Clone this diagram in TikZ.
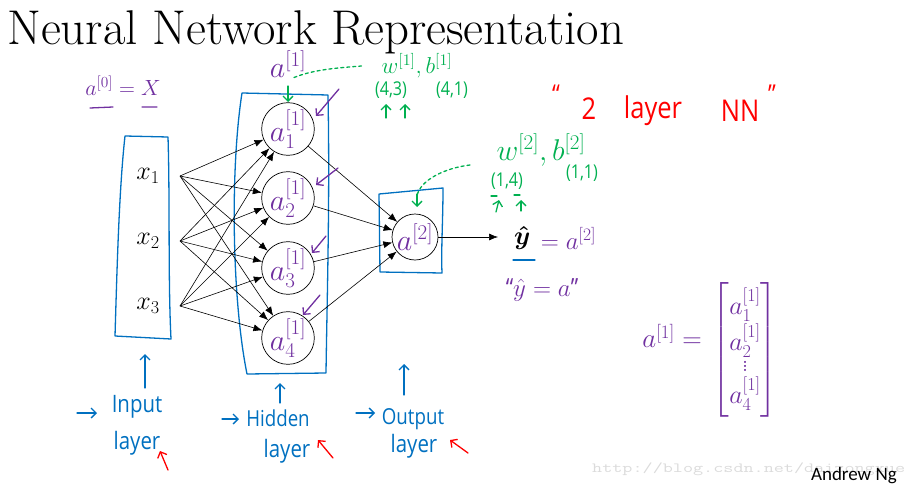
\RequirePackage{fix-cm}
\documentclass[tikz,border=0pt]{standalone}
\usepackage{amsmath}
\usepackage{fontspec}
\usepackage{xcolor}
\usepackage{tikz}
\usetikzlibrary{calc,arrows.meta}
\newfontfamily\inkFont[FakeStretch=0.85]{Open Sans}
\newfontfamily\slideFont{Carlito}
\definecolor{inkBlue}{RGB}{0,112,192}
\definecolor{inkPurple}{RGB}{112,48,160}
\definecolor{inkGreen}{RGB}{0,176,80}
\definecolor{inkRed}{RGB}{255,0,0}
\newcommand{\neuronSize}{46pt}
\newcommand{\inputX}{148}
\newcommand{\hiddenX}{288}
\newcommand{\inputNames}{1/176, 2/241, 3/306}
\newcommand{\hiddenNames}{1/129, 2/198, 3/268, 4/338}
\newcommand{\inkSize}[1]{\fontsize{#1}{#1}\selectfont}

\begin{document}
\begin{tikzpicture}[x=1pt, y=-1pt,
		neuron/.style={circle, draw, line width=0.7pt, minimum size=\neuronSize, inner sep=0pt, text=inkPurple},
		edge/.style={-{Latex[length=9pt, width=7pt]}, line width=0.6pt},
		pen/.style={line width=1.3pt, line cap=round, line join=round},
		penTip/.style={pen, -{Straight Barb[length=5pt, width=10pt]}},
		inkText/.style={inner sep=0pt, font=\inkFont\inkSize{22}},
	]
	\useasboundingbox (0,0) rectangle (915,487);

	\node[anchor=base west, inner sep=0pt] (title) at (7,45) {\inkSize{48.8}Neural Network Representation};

	% layers
	\draw[pen, inkBlue] (125,136) -- (168,137) .. controls (170,200) and (168,280) .. (171,339) -- (115,336) .. controls (117,270) and (119,190) .. cycle;
	\draw[pen, inkBlue] (242,93) -- (328,95) .. controls (330,200) and (327,300) .. (326,373) -- (247,374) .. controls (232,300) and (230,170) .. cycle;
	\draw[pen, inkBlue] (379,194) -- (443,188) .. controls (443,220) and (441,250) .. (442,273) -- (380,272) -- cycle;

	\foreach \i/\y in \inputNames
	{
		\node (x\i) at (\inputX,\y) {\inkSize{26}$x_{\i}$};
		\coordinate (in\i) at (180,\y);
	}
	\foreach \j/\y in \hiddenNames
		\node[neuron] (h\j) at (\hiddenX,\y) {\inkSize{30}$a^{[1]}_{\j}$};
	\node[neuron] (out) at (415,237) {\inkSize{30}$a^{[2]}$};

	\foreach \i in {1,2,3}
		\foreach \j in {1,...,4}
			\draw[edge] (in\i) -- (h\j);
	\foreach \j in {1,...,4}
		\draw[edge] (h\j) -- (out);

	\node[anchor=west, inner sep=0pt] (yhat) at (514,238) {\inkSize{26}$\boldsymbol{\hat{y}}$};
	\draw[edge] (out) -- ([xshift=-16pt]yhat.west |- out);
	\node[anchor=west, inner sep=0pt, text=inkPurple] (yval) at ([xshift=10pt]yhat.east) {\inkSize{25}$=a^{[2]}$};
	\draw[pen, inkBlue] (513,260) -- (535,260);
	\node[text=inkPurple, inner sep=0pt] (yalias) at (542,290) {\inkSize{25}{\inkFont “}$\hat{y}=a${\inkFont ”}};

	% purple notes
	\node[text=inkPurple, inner sep=0pt] (aZero) at (123,86) {\inkSize{22}$a^{[0]}=X$};
	\draw[pen, inkPurple] (90,108) -- (113,107) (142,107) -- (157,107);
	\node[text=inkPurple, inner sep=0pt] (aTop) at (288,64) {\inkSize{30}$a^{[1]}$};
	\foreach \sx/\sy/\ex/\ey in {339/89/316/116, 338/168/316/185, 326/236/312/253, 320/295/303/315}
		\draw[penTip, inkPurple] (\sx,\sy) -- (\ex,\ey);
	\node[text=inkPurple, inner sep=0pt, anchor=east] (aVecName) at (702,336) {\inkSize{27}$a^{[1]}=$};
	\node[text=inkPurple, inner sep=0pt] (aVec) at (745,350) {\fontsize{26}{29}\selectfont$\begin{bmatrix} a^{[1]}_{1}\\ a^{[1]}_{2}\\[-8pt] \vdots\\[-4pt] a^{[1]}_{4}\end{bmatrix}$};

	% green notes
	\node[text=inkGreen, inner sep=0pt] (w1) at (417,66) {\inkSize{23}$w^{[1]},b^{[1]}$};
	\node[inkText, text=inkGreen] (w1dim) at (391,90) {\inkSize{19}(4,3)};
	\node[inkText, text=inkGreen] (b1dim) at (452,90) {\inkSize{19}(4,1)};
	\draw[pen, inkGreen, dashed] ([xshift=6pt]aTop.south) .. controls +(20,-8) and +(-25,2) .. ([xshift=-20pt]w1.west);
	\draw[penTip, inkGreen] (288,86) -- (288,102);
	\draw[penTip, inkGreen] (386,118) -- (386,104);
	\draw[penTip, inkGreen] (405,118) -- (405,104);

	\node[text=inkGreen, inner sep=0pt] (w2) at (541,150) {\inkSize{30}$w^{[2]},b^{[2]}$};
	\node[inkText, text=inkGreen] (w2dim) at (507,181) {\inkSize{19}(1,4)};
	\node[inkText, text=inkGreen] (b2dim) at (582,173) {\inkSize{19}(1,1)};
	\draw[pen, inkGreen, dashed] (470,165) .. controls (445,168) and (420,180) .. (417,196);
	\draw[penTip, inkGreen] (417,194) -- (417,207);
	\draw[pen, inkGreen] (491,196) -- (497,196) (514,195) -- (520,195);
	\draw[penTip, inkGreen] (496,212) -- (499,200);
	\draw[penTip, inkGreen] (521,211) -- (521,200);

	% red notes
	\node[inkText, text=inkRed] (nnOpen) at (556,94) {\inkSize{26}“};
	\node[inkText, text=inkRed] (nnTwo) at (589,109) {\inkSize{30}2};
	\node[inkText, text=inkRed] (nnLayer) at (653,111) {\inkSize{30}layer};
	\node[inkText, text=inkRed] (nnNet) at (740,111) {\inkSize{30}NN};
	\node[inkText, text=inkRed] (nnClose) at (772,94) {\inkSize{26}”};

	% layer names
	\node[inkText, text=inkBlue] (inputWord) at (137,407) {\inkSize{24}Input};
	\node[inkText, text=inkBlue] (inputLayer) at (137,443) {\inkSize{24}layer};
	\node[inkText, text=inkBlue] (hiddenWord) at (278,418) {\inkSize{22}Hidden};
	\node[inkText, text=inkBlue] (hiddenLayer) at (287,451) {\inkSize{24}layer};
	\node[inkText, text=inkBlue] (outputWord) at (413,419) {\inkSize{22}Output};
	\node[inkText, text=inkBlue] (outputLayer) at (414,446) {\inkSize{24}layer};
	\draw[penTip, inkBlue] (145,388) -- (145,354);
	\draw[penTip, inkBlue] (280,403) -- (280,383);
	\draw[penTip, inkBlue] (404,395) -- (404,364);
	\draw[penTip, inkBlue] (77,413) -- (97,413);
	\draw[penTip, inkBlue] (222,419) -- (239,419);
	\draw[penTip, inkBlue] (356,413) -- (375,413);
	\draw[penTip, inkRed] (168,470) -- (160,451);
	\draw[penTip, inkRed] (333,458) -- (318,440);
	\draw[penTip, inkRed] (468,453) -- (450,440);

	\node[anchor=base west, inner sep=0pt, text=black!14] (mark) at (592,472) {\scalebox{1.4}[1]{\inkSize{14}\ttfamily http://blog.csdn.net/daizongxue}};
	\node[anchor=base east, inner sep=0pt] (credit) at (897,480) {\slideFont\inkSize{19}Andrew Ng};
\end{tikzpicture}
\end{document}
